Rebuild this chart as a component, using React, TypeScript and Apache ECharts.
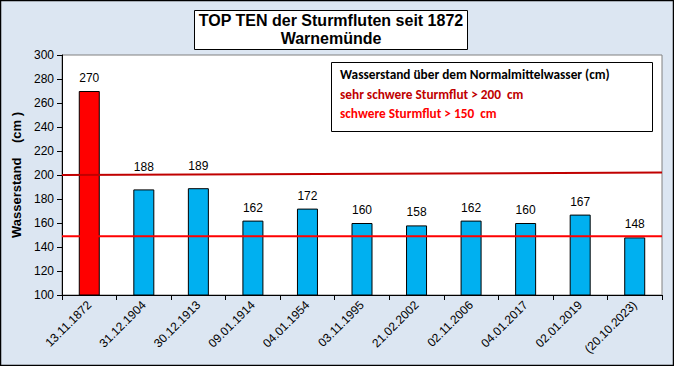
import React, { useEffect, useRef } from "react";
import * as echarts from "echarts";

const categories = ["13.11.1872", "31.12.1904", "30.12.1913", "09.01.1914", "04.01.1954", "03.11.1995", "21.02.2002", "02.11.2006", "04.01.2017", "02.01.2019", "(20.10.2023)"];
const values = [270, 188, 189, 162, 172, 160, 158, 162, 160, 167, 148];
const upperLine = [[0, 200], [1, 202]];
const lowerLine = [[0, 149], [1, 149]];
const legendLines = ["Wasserstand über dem Normalmittelwasser (cm)", "sehr schwere Sturmflut > 200  cm", "schwere Sturmflut > 150  cm"];

export default function App() {
  const ref = useRef<HTMLDivElement>(null);
  useEffect(() => {
    document.body.style.margin = "0";
    const chart = echarts.init(ref.current!, null, { renderer: "svg" });
    chart.setOption({
      animation: false,
      backgroundColor: "#dce6f2",
      textStyle: { fontFamily: "Liberation Sans, Arial, sans-serif" },
      grid: { left: 62, right: 12, top: 55, bottom: 71, show: true, backgroundColor: "#ffffff", borderColor: "#808080", borderWidth: 1 },
      xAxis: [
        {
          type: "category",
          data: categories,
          axisLine: { lineStyle: { color: "#000", width: 1 } },
          axisTick: { show: true, alignWithLabel: false, length: 5, lineStyle: { color: "#000" } },
          axisLabel: { rotate: 45, color: "#000", fontSize: 12, margin: 8, interval: 0 },
        },
        { type: "value", min: 0, max: 1, show: false },
      ],
      yAxis: {
        type: "value",
        min: 100,
        max: 300,
        interval: 20,
        name: "Wasserstand    (cm )",
        nameLocation: "middle",
        nameGap: 34,
        nameTextStyle: { fontWeight: "bold", fontSize: 13, color: "#000" },
        axisLine: { show: true, lineStyle: { color: "#000" } },
        axisTick: { show: true, length: 5, lineStyle: { color: "#000" } },
        axisLabel: { color: "#000", fontSize: 12, margin: 8 },
        splitLine: { show: false },
      },
      series: [
        {
          type: "bar",
          data: values.map((v, i) => ({
            value: v,
            itemStyle: { color: i === 0 ? "#ff0000" : "#00b0f0" },
            label: { distance: i === 1 || i === 2 ? 16 : 7 },
          })),
          barWidth: 21,
          itemStyle: { borderColor: "#000", borderWidth: 1 },
          label: { show: true, position: "top", color: "#000", fontSize: 12, distance: 7 },
          z: 2,
        },
        {
          type: "line",
          xAxisIndex: 1,
          data: upperLine,
          symbol: "none",
          lineStyle: { color: "#c00000", width: 2 },
          z: 3,
        },
        {
          type: "line",
          xAxisIndex: 1,
          data: lowerLine,
          symbol: "none",
          lineStyle: { color: "#ff0000", width: 2 },
          z: 3,
        },
      ],
      graphic: [
        { type: "rect", shape: { x: 0.5, y: 0.5, width: 673, height: 365 }, style: { fill: "none", stroke: "#000", lineWidth: 1.5 }, z: 100 },
        { type: "rect", shape: { x: 194.5, y: 10.5, width: 273, height: 39 }, style: { fill: "#fff", stroke: "#000", lineWidth: 1 }, z: 10 },
        { type: "text", x: 331, y: 11, style: { text: "TOP TEN der Sturmfluten seit 1872\nWarnemünde", fill: "#000", font: "bold 16px Liberation Sans, Arial, sans-serif", align: "center", lineHeight: 18 }, z: 11 },
        { type: "rect", shape: { x: 331.5, y: 62.5, width: 321, height: 69 }, style: { fill: "#fff", stroke: "#000", lineWidth: 1 }, z: 10 },
        { type: "text", x: 340, y: 68, style: { text: legendLines[0], fill: "#000", font: "bold 13.3px Carlito, Calibri, Liberation Sans, sans-serif" }, z: 11 },
        { type: "text", x: 340, y: 88, style: { text: legendLines[1], fill: "#c00000", font: "bold 13.3px Carlito, Calibri, Liberation Sans, sans-serif" }, z: 11 },
        { type: "text", x: 340, y: 107, style: { text: legendLines[2], fill: "#ff0000", font: "bold 13.3px Carlito, Calibri, Liberation Sans, sans-serif" }, z: 11 },
      ],
    });
    return () => chart.dispose();
  }, []);
  return <div ref={ref} style={{ width: 674, height: 366, position: "absolute", left: 0, top: 0 }} />;
}
